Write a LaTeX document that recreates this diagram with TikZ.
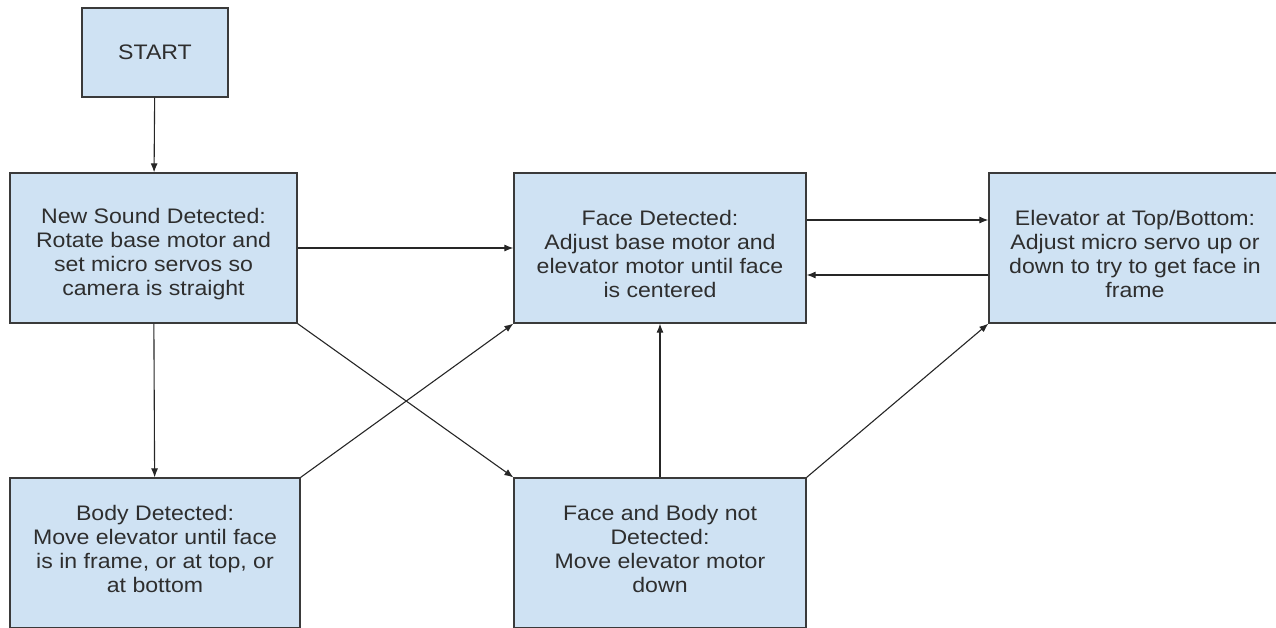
\documentclass[tikz,border=0pt]{standalone}
\usepackage{fontspec}
\setmainfont[FakeStretch=1.1]{Liberation Sans}
\usetikzlibrary{positioning, arrows.meta}

\definecolor{boxfill}{HTML}{CFE2F3}
\definecolor{boxline}{HTML}{3A3A3A}
\definecolor{boxtext}{HTML}{2E2E2E}

% extra room above the first line of the upper boxes
\newcommand{\topgap}{\rule{0pt}{28pt}}

\tikzset{
  state/.style={draw=boxline, fill=boxfill, line width=1.2pt, text=boxtext,
    align=center, inner sep=0pt, font=\fontsize{21}{24}\selectfont},
  toprow/.style={state, minimum height=150pt},
  lowrow/.style={state, minimum height=150pt,
    execute at end node={\rule[-8pt]{0pt}{0pt}}},
  flow/.style={-{Latex[length=9pt,width=7pt]}, line width=1.1pt, black!85},
}

\begin{document}
\begin{tikzpicture}[x=1pt, y=-1pt]
	\useasboundingbox (0,0) rectangle (1276,627);
	\clip (0,0) rectangle (1276,627);
	
	\node[state, minimum width=146pt, minimum height=89pt] (start) at (155,52.5) {START};
	
	\node[toprow, minimum width=287pt] (sound) at (153.5,248)
		{\topgap New Sound Detected:\\Rotate base motor and\\set micro servos so\\camera is straight};
	\node[toprow, minimum width=292pt] (face) at (660,248)
		{\topgap Face Detected:\\Adjust base motor and\\elevator motor until face\\is centered};
	\node[toprow, minimum width=292pt] (elev) at (1135,248)
		{\topgap Elevator at Top/Bottom:\\Adjust micro servo up or\\down to try to get face in\\frame};
	
	\node[lowrow, minimum width=290pt] (body) at (155,553)
		{Body Detected:\\Move elevator until face\\is in frame, or at top, or\\at bottom};
	\node[lowrow, minimum width=292pt] (none) at (660,553)
		{Face and Body not\\Detected:\\Move elevator motor\\down};
	
	\draw[flow] (start) -- (sound);
	\draw[flow] (sound) -- (face);
	\draw[flow] ([yshift=28pt]face.east) -- ([yshift=28pt]elev.west);
	\draw[flow] ([yshift=-27pt]elev.west) -- ([yshift=-27pt]face.east);
	\draw[flow] (sound) -- (body);
	\draw[flow] (sound.south east) -- (none.north west);
	\draw[flow] (body.north east) -- (face.south west);
	\draw[flow] (none) -- (face);
	\draw[flow] (none.north east) -- (elev.south west);
\end{tikzpicture}
\end{document}
